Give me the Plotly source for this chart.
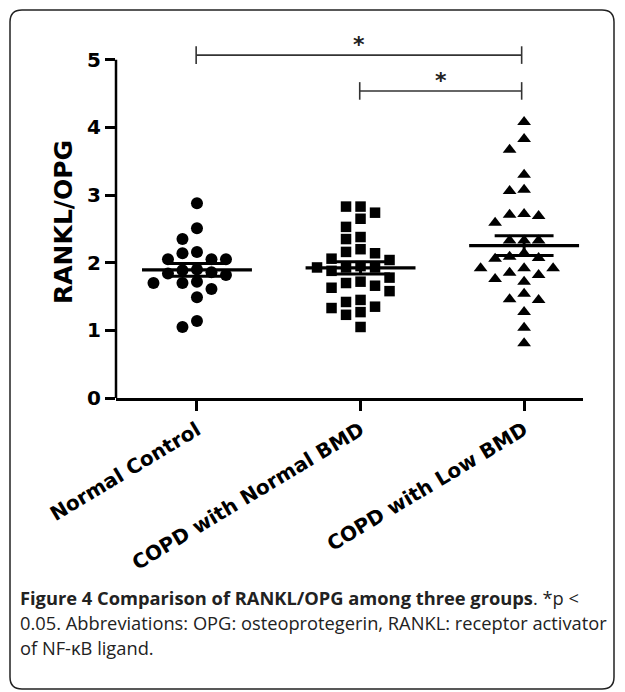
import numpy as np
import plotly.graph_objects as go

# ---------------- data ----------------
categories = ["Normal Control", "COPD with Normal BMD", "COPD with Low BMD"]
normal_control = [2.88, 2.51, 2.35, 2.16, 2.14, 2.05, 2.05, 2.05, 1.90, 1.89, 1.86, 1.84,
                  1.82, 1.72, 1.70, 1.70, 1.61, 1.49, 1.14, 1.05]
copd_normal_bmd = [2.83, 2.83, 2.74, 2.65, 2.53, 2.38, 2.35, 2.20, 2.16, 2.14, 2.06, 2.04,
                   1.95, 1.93, 1.93, 1.93, 1.88, 1.78, 1.72, 1.70, 1.66, 1.63, 1.58, 1.45,
                   1.42, 1.35, 1.33, 1.27, 1.23, 1.05]
copd_low_bmd = [4.08, 3.83, 3.67, 3.30, 3.08, 3.06, 2.72, 2.71, 2.69, 2.59, 2.33, 2.33,
                2.33, 2.14, 2.09, 2.07, 2.06, 1.92, 1.92, 1.92, 1.85, 1.82, 1.76, 1.72,
                1.54, 1.46, 1.45, 1.27, 1.04, 0.81]
y_ticks = [0, 1, 2, 3, 4, 5]
comparisons = [(0, 2, "*"), (1, 2, "*")]

groups = [normal_control, copd_normal_bmd, copd_low_bmd]
symbols = ["circle", "square", "triangle-up"]
sizes = [12, 10.5, 12]

# ---------------- geometry helpers ----------------
W, H = 625, 692
L, R, T, B = 116, 42, 26, 294
X_RANGE = [-0.495, 2.36]
Y_RANGE = [0, 5.5]
plot_w = W - L - R
plot_h = H - T - B
px_per_x = plot_w / (X_RANGE[1] - X_RANGE[0])
px_per_y = plot_h / (Y_RANGE[1] - Y_RANGE[0])


def xp(px):
    return (px - L) / plot_w


def yp(py):
    return (H - B - py) / plot_h


def swarm(values, step_px=14.5, diam=11.5):
    placed = []
    offs = []
    order = [0]
    for i in range(1, 12):
        order += [-i, i]
    for v in values:
        col = 0
        for c in order:
            if all(not (pc == c and abs(pv - v) * px_per_y < diam) for pc, pv in placed):
                col = c
                break
        placed.append((col, v))
        offs.append(col * step_px / px_per_x)
    return offs


fig = go.Figure()

for i, vals in enumerate(groups):
    offs = swarm(vals)
    fig.add_trace(go.Scatter(
        x=[i + o for o in offs], y=vals, mode="markers",
        marker=dict(symbol=symbols[i], size=sizes[i], color="black", line=dict(width=0)),
        hoverinfo="y", showlegend=False))

for i, vals in enumerate(groups):
    a = np.array(vals)
    m = a.mean()
    s = a.std(ddof=1) / np.sqrt(len(a))
    fig.add_trace(go.Scatter(
        x=[i - 0.336, i + 0.336], y=[m, m], mode="lines",
        line=dict(color="black", width=3.2), hoverinfo="skip", showlegend=False))
    fig.add_trace(go.Scatter(
        x=[i - 0.18, i + 0.18, None, i - 0.18, i + 0.18, None, i, i],
        y=[m + s, m + s, None, m - s, m - s, None, m - s, m + s], mode="lines",
        line=dict(color="black", width=3), hoverinfo="skip", showlegend=False))

# significance brackets
bracket_y = [5.07, 4.54]
for (a, b, lab), by in zip(comparisons, bracket_y):
    x0, x1 = a - 0.005, b - 0.015
    fig.add_shape(type="line", xref="x", yref="y", x0=x0, x1=x1, y0=by, y1=by,
                  line=dict(color="#333", width=1.6))
    for xx in (x0, x1):
        fig.add_shape(type="line", xref="x", yref="y", x0=xx, x1=xx, y0=by - 0.13, y1=by + 0.13,
                      line=dict(color="#333", width=1.6))
    fig.add_annotation(x=(x0 + x1) / 2, y=by - 0.06, xref="x", yref="y", text=lab,
                       showarrow=False, yanchor="bottom",
                       font=dict(family="DejaVu Sans", size=22, color="#222", weight="bold"))

# y axis line from 0 to 5
fig.add_shape(type="line", xref="paper", yref="y", x0=0, x1=0, y0=0, y1=5,
              line=dict(color="black", width=2.5))

# y title
fig.add_annotation(x=xp(63), y=yp(222), xref="paper", yref="paper", text="RANKL/OPG",
                   textangle=-90, showarrow=False, xanchor="center", yanchor="middle",
                   font=dict(family="DejaVu Sans", size=25, color="black", weight="bold"))

# frame
x0, y0, x1, y1, r = 10, 10, 614, 689, 12
pts = [
    f"M {xp(x0 + r)},{yp(y0)}", f"L {xp(x1 - r)},{yp(y0)}", f"Q {xp(x1)},{yp(y0)} {xp(x1)},{yp(y0 + r)}",
    f"L {xp(x1)},{yp(y1 - r)}", f"Q {xp(x1)},{yp(y1)} {xp(x1 - r)},{yp(y1)}",
    f"L {xp(x0 + r)},{yp(y1)}", f"Q {xp(x0)},{yp(y1)} {xp(x0)},{yp(y1 - r)}",
    f"L {xp(x0)},{yp(y0 + r)}", f"Q {xp(x0)},{yp(y0)} {xp(x0 + r)},{yp(y0)}", "Z"]
fig.add_shape(type="path", xref="paper", yref="paper", path=" ".join(pts),
              line=dict(color="#222", width=1.5), layer="below")

# caption
cap_font = dict(family="Open Sans", size=18.3, color="#222")
caption = [
    "<b>Figure 4 Comparison of RANKL/OPG among three groups</b>. *p <",
    "0.05. Abbreviations: OPG: osteoprotegerin, RANKL: receptor activator",
    "of NF-κB ligand.",
]
for k, line in enumerate(caption):
    fig.add_annotation(x=xp(18), y=yp(597 + 25 * k), xref="paper", yref="paper", text=line,
                       showarrow=False, xanchor="left", yanchor="middle", font=cap_font)

fig.update_layout(
    width=W, height=H, margin=dict(l=L, r=R, t=T, b=B),
    plot_bgcolor="white", paper_bgcolor="white", showlegend=False,
    xaxis=dict(range=X_RANGE, tickvals=[0, 1, 2], ticktext=categories, tickangle=-31,
               ticks="outside", ticklen=10, tickwidth=2.5, tickcolor="black",
               showline=True, linewidth=2.5, linecolor="black", showgrid=False,
               zeroline=False, automargin=False,
               tickfont=dict(family="DejaVu Sans", size=20, color="black", weight="bold")),
    yaxis=dict(range=Y_RANGE, tickvals=y_ticks, ticks="outside", ticklen=10, tickwidth=2.5,
               tickcolor="black", showline=False, showgrid=False, zeroline=False,
               automargin=False,
               tickfont=dict(family="DejaVu Sans", size=20, color="black", weight="bold")),
)

fig.write_html("out.html", config={"displayModeBar": False},
               post_script="document.body.style.margin='0';document.body.style.overflow='hidden';")
